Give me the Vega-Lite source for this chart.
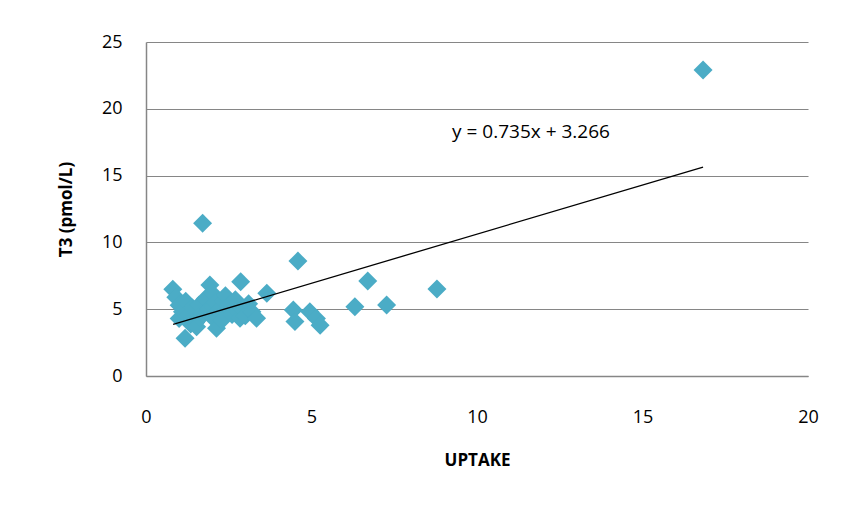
{
  "$schema": "https://vega.github.io/schema/vega-lite/v6.json",
  "width": 662,
  "height": 334,
  "autosize": {"type": "none"},
  "padding": {"left": 146, "top": 42, "right": 34, "bottom": 139},
  "background": "white",
  "config": {
    "view": {"stroke": null},
    "font": "Open Sans",
    "axis": {
      "labelFont": "Open Sans",
      "titleFont": "Open Sans",
      "labelColor": "#000000",
      "titleColor": "#000000",
      "labelFontSize": 18,
      "titleFontSize": 17,
      "titleFontWeight": "bold",
      "domainColor": "#868686",
      "domainWidth": 1.5,
      "gridColor": "#868686",
      "gridWidth": 1.2,
      "ticks": false
    }
  },
  "datasets": {
    "pts": [
      {"uptake": 0.81, "t3": 6.49},
      {"uptake": 0.9, "t3": 5.9},
      {"uptake": 1.0, "t3": 5.3},
      {"uptake": 1.0, "t3": 4.3},
      {"uptake": 1.1, "t3": 4.8},
      {"uptake": 1.18, "t3": 2.82},
      {"uptake": 1.2, "t3": 5.6},
      {"uptake": 1.3, "t3": 4.6},
      {"uptake": 1.35, "t3": 3.9},
      {"uptake": 1.4, "t3": 5.1},
      {"uptake": 1.5, "t3": 4.0},
      {"uptake": 1.53, "t3": 3.69},
      {"uptake": 1.6, "t3": 5.3},
      {"uptake": 1.65, "t3": 4.4},
      {"uptake": 1.7, "t3": 4.7},
      {"uptake": 1.71, "t3": 11.43},
      {"uptake": 1.8, "t3": 5.8},
      {"uptake": 1.9, "t3": 5.0},
      {"uptake": 1.93, "t3": 6.81},
      {"uptake": 2.0, "t3": 4.4},
      {"uptake": 2.0, "t3": 6.2},
      {"uptake": 2.05, "t3": 5.2},
      {"uptake": 2.1, "t3": 5.5},
      {"uptake": 2.13, "t3": 3.57},
      {"uptake": 2.2, "t3": 4.9},
      {"uptake": 2.3, "t3": 4.2},
      {"uptake": 2.35, "t3": 5.6},
      {"uptake": 2.4, "t3": 6.0},
      {"uptake": 2.5, "t3": 5.3},
      {"uptake": 2.6, "t3": 4.6},
      {"uptake": 2.7, "t3": 5.7},
      {"uptake": 2.75, "t3": 4.9},
      {"uptake": 2.84, "t3": 4.32},
      {"uptake": 2.86, "t3": 7.06},
      {"uptake": 2.9, "t3": 5.0},
      {"uptake": 3.0, "t3": 4.5},
      {"uptake": 3.1, "t3": 5.4},
      {"uptake": 3.2, "t3": 4.8},
      {"uptake": 3.34, "t3": 4.32},
      {"uptake": 3.65, "t3": 6.19},
      {"uptake": 4.45, "t3": 4.94},
      {"uptake": 4.5, "t3": 4.07},
      {"uptake": 4.59, "t3": 8.6},
      {"uptake": 4.95, "t3": 4.81},
      {"uptake": 5.15, "t3": 4.3},
      {"uptake": 5.26, "t3": 3.8},
      {"uptake": 6.31, "t3": 5.19},
      {"uptake": 6.7, "t3": 7.11},
      {"uptake": 7.27, "t3": 5.31},
      {"uptake": 8.79, "t3": 6.51},
      {"uptake": 16.83, "t3": 22.9}
    ],
    "trend": [
      {"uptake": 0.82, "t3": 3.87},
      {"uptake": 16.83, "t3": 15.64}
    ],
    "label": [
      {"uptake": 11.63, "t3": 18.26, "text": "y = 0.735x + 3.266"}
    ]
  },
  "layer": [
    {
      "data": {"name": "pts"},
      "mark": {"type": "point", "shape": "diamond", "filled": true, "size": 360, "color": "#4BACC6", "opacity": 1},
      "encoding": {
        "x": {
          "field": "uptake", "type": "quantitative",
          "scale": {"domain": [0, 20], "nice": false, "zero": true},
          "axis": {"values": [0, 5, 10, 15, 20], "grid": false, "title": "UPTAKE", "labelPadding": 32, "titlePadding": 26, "labelFlush": false}
        },
        "y": {
          "field": "t3", "type": "quantitative",
          "scale": {"domain": [0, 25], "nice": false},
          "axis": {"values": [0, 5, 10, 15, 20, 25], "grid": true, "title": "T3 (pmol/L)", "labelPadding": 24, "titlePadding": 26}
        }
      }
    },
    {
      "data": {"name": "trend"},
      "mark": {"type": "line", "color": "#000000", "strokeWidth": 1.3},
      "encoding": {
        "x": {"field": "uptake", "type": "quantitative"},
        "y": {"field": "t3", "type": "quantitative"}
      }
    },
    {
      "data": {"name": "label"},
      "mark": {"type": "text", "fontSize": 19, "font": "Open Sans", "color": "#000000", "align": "center", "baseline": "middle"},
      "encoding": {
        "x": {"field": "uptake", "type": "quantitative"},
        "y": {"field": "t3", "type": "quantitative"},
        "text": {"field": "text"}
      }
    }
  ]
}
